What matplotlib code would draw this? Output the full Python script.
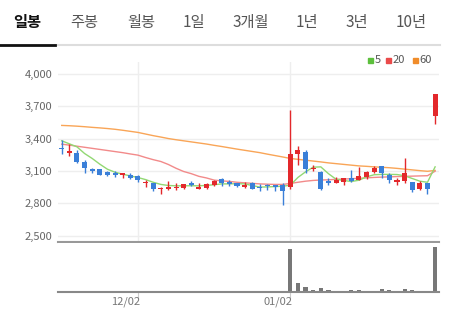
import numpy as np
import matplotlib
matplotlib.use("Agg")
import matplotlib.pyplot as plt
from matplotlib.patches import Rectangle

plt.rcParams['font.family'] = ['Noto Sans CJK KR', 'DejaVu Sans']

# 일봉 데이터 (시가, 고가, 저가, 종가)
opens = [3315, 3263, 3268, 3179, 3119, 3114, 3086, 3077, 3067, 3067,
         3054, 2984, 2990, 2928, 2933, 2940, 2940, 2984, 2933, 2946,
         2971, 3023, 2993, 2984, 2955, 2990, 2952, 2974, 2968, 2968,
         2952, 3256, 3277, 3114, 3092, 3005, 2990, 2993, 3030, 3014,
         3045, 3086, 3144, 3061, 2993, 3005, 2993, 2937, 2984, 3612]
highs = [3386, 3346, 3293, 3200, 3126, 3120, 3095, 3101, 3080, 3077,
         3067, 3014, 2990, 2955, 3005, 2984, 2980, 3005, 2990, 2990,
         3014, 3039, 3014, 2986, 2993, 2998, 2977, 2978, 2970, 2990,
         3665, 3333, 3293, 3154, 3101, 3039, 3045, 3039, 3107, 3138,
         3098, 3147, 3144, 3077, 3030, 3222, 2995, 3005, 2988, 3811]
lows = [3253, 3237, 3175, 3082, 3085, 3065, 3055, 3045, 3036, 3021,
        2998, 2952, 2915, 2890, 2925, 2921, 2928, 2958, 2928, 2937,
        2962, 2958, 2961, 2950, 2943, 2930, 2912, 2921, 2918, 2782,
        2937, 3160, 3077, 3101, 2921, 2968, 2984, 2968, 3000, 3014,
        3023, 3077, 3036, 2990, 2974, 2984, 2905, 2921, 2884, 3535]
closes = [3300, 3287, 3184, 3129, 3104, 3067, 3064, 3067, 3077, 3036,
          3014, 3000, 2937, 2943, 2952, 2952, 2977, 2968, 2952, 2977,
          3008, 2984, 2977, 2961, 2965, 2937, 2940, 2958, 2952, 2915,
          3253, 3293, 3114, 3129, 2937, 2990, 3014, 3030, 3008, 3054,
          3086, 3129, 3077, 3014, 3014, 3077, 2921, 2984, 2937, 3811]
volumes = [5, 6, 20, 5, 5, 5, 5, 5, 5, 5,
           5, 5, 5, 5, 5, 5, 5, 5, 5, 5,
           5, 5, 5, 5, 5, 5, 5, 5, 5, 5,
           1300, 250, 130, 50, 110, 50, 10, 30, 50, 50,
           30, 15, 80, 40, 15, 90, 50, 10, 10, 1350]

# 이동평균선
ma5 = [3380, 3352, 3324, 3262, 3216, 3163, 3116, 3088, 3070, 3054,
       3039, 3020, 2995, 2975, 2965, 2962, 2962, 2963, 2962, 2966,
       2972, 2980, 2980, 2982, 2980, 2965, 2950, 2952, 2955, 2958,
       2968, 3040, 3092, 3135, 3138, 3075, 3023, 3012, 3002, 3014,
       3045, 3065, 3068, 3068, 3067, 3055, 3030, 3005, 2995, 3138]
ma20 = [3349, 3340, 3330, 3320, 3310, 3300, 3290, 3280, 3270, 3258,
        3247, 3225, 3205, 3188, 3160, 3125, 3095, 3075, 3050, 3035,
        3015, 3008, 3003, 2995, 2990, 2985, 2980, 2977, 2975, 2975,
        2984, 2995, 3005, 3012, 3016, 3018, 3022, 3025, 3028, 3032,
        3036, 3040, 3043, 3045, 3048, 3050, 3052, 3054, 3056, 3098]
ma60 = [3523, 3520, 3516, 3511, 3505, 3500, 3494, 3487, 3478, 3468,
        3458, 3443, 3428, 3415, 3401, 3390, 3380, 3370, 3360, 3350,
        3338, 3327, 3315, 3303, 3292, 3281, 3270, 3256, 3243, 3230,
        3216, 3208, 3200, 3192, 3184, 3175, 3168, 3161, 3154, 3147,
        3143, 3138, 3134, 3130, 3124, 3117, 3110, 3103, 3097, 3105]

yticks = [2500, 2800, 3100, 3400, 3700, 4000]
xtick_idx = [10, 30]
xtick_labels = ['12/02', '01/02']
tabs = ['일봉', '주봉', '월봉', '1일', '3개월', '1년', '3년', '10년']
tab_x = [27, 84, 141, 194, 251, 307, 357, 411]

UP = '#e3282b'
DOWN = '#3a7fd8'

fig = plt.figure(figsize=(4.56, 3.18), dpi=100)
W, H = 456, 318

def fx(px):
    return px / W

def fy(py):
    return 1 - py / H

ax = fig.add_axes([fx(58), fy(241.7), fx(439.3 - 58), (241.7 - 62) / H])
axv = fig.add_axes([fx(58), fy(291.7), fx(439.3 - 58), (291.7 - 242.5) / H])

x = np.arange(len(opens))
o = np.array(opens); c = np.array(closes)
hi = np.array(highs); lo = np.array(lows)
colors = [UP if cc >= oo else DOWN for oo, cc in zip(o, c)]

# 이평선
ax.plot(x, ma60, color='#f9a557', lw=1, zorder=2)
ax.plot(x, ma20, color='#f28a8a', lw=1, zorder=2)
ax.plot(x, ma5, color='#92d873', lw=1, zorder=2)

# 캔들
ax.vlines(x, lo, hi, colors=colors, lw=1, zorder=3)
body_lo = np.minimum(o, c)
body_h = np.maximum(np.abs(c - o), 8)
ax.bar(x, body_h, bottom=body_lo, width=0.66, color=colors, zorder=4)

ax.set_xlim(-0.49, 49.55)
ax.set_ylim(2443, 4112)
ax.set_yticks(yticks)
ax.set_yticklabels([f'{v:,}' for v in yticks])
ax.tick_params(axis='y', length=0, pad=4, labelsize=8, colors='#666666')
ax.tick_params(axis='x', length=0, labelbottom=False)
ax.set_xticks(xtick_idx)
ax.grid(True, color='#eeeeee', lw=1)
ax.set_axisbelow(True)
for s in ['top', 'right', 'left']:
    ax.spines[s].set_visible(False)
ax.spines['bottom'].set_color('#999999')
ax.spines['bottom'].set_linewidth(1.5)

# 범례
leg_items = [('5', '#5cbf3c', 368), ('20', '#ea4a4a', 386), ('60', '#f08c2a', 413)]
for lab, col, px in leg_items:
    fig.add_artist(Rectangle((fx(px), fy(62.5)), fx(5), 5 / H, color=col,
                             transform=fig.transFigure))
    fig.text(fx(px + 6.5), fy(60), lab, color='#555555', fontsize=8, va='center', ha='left')

# 거래량
axv.bar(x, volumes, width=0.55, color='#777777')
axv.set_xlim(-0.49, 49.55)
axv.set_ylim(0, 1490)
axv.set_yticks([])
axv.set_xticks(xtick_idx)
axv.set_xticklabels([])
axv.tick_params(axis='x', length=4, color='#cccccc')
for s in ['top', 'right', 'left']:
    axv.spines[s].set_visible(False)
axv.spines['bottom'].set_color('#888888')
axv.spines['bottom'].set_linewidth(1.5)
for xi, lab in zip(xtick_idx, xtick_labels):
    axv.annotate(lab, xy=(xi, 0), xycoords=('data', 'axes fraction'),
                 xytext=(-12, -10), textcoords='offset pixels',
                 ha='center', va='center', fontsize=8, color='#777777')

# 상단 탭
for i, (t, px) in enumerate(zip(tabs, tab_x)):
    fig.text(fx(px), fy(22), t, ha='center', va='center', fontsize=11,
             color='#111111' if i == 0 else '#555555',
             fontweight='bold' if i == 0 else 'normal')
fig.add_artist(plt.Line2D([fx(55), fx(440)], [fy(45), fy(45)], color='#dddddd', lw=1.5))
fig.add_artist(plt.Line2D([fx(0), fx(55)], [fy(45), fy(45)], color='#111111', lw=2))

fig.savefig('out.png', dpi=100)
